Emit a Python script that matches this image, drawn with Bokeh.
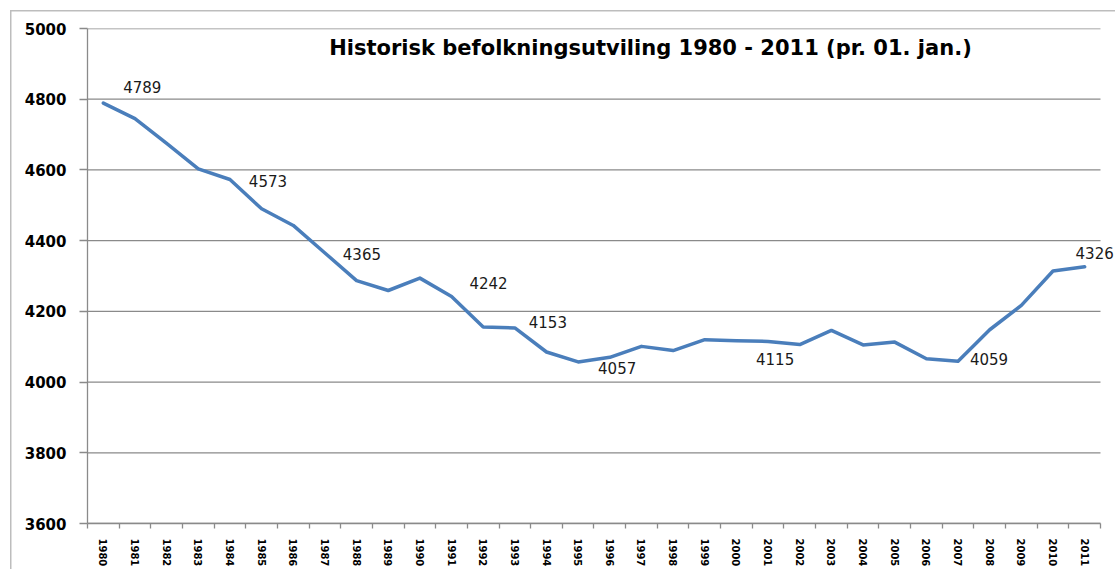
from bokeh.plotting import figure
from bokeh.models import (Range1d, FixedTicker, LabelSet, Label, ColumnDataSource,
                          InlineStyleSheet)
from bokeh.core.properties import value
from bokeh.embed import file_html
from bokeh.resources import INLINE

# ---- data ----
years = list(range(1980, 2012))
population = [4789, 4745, 4675, 4603, 4573, 4490, 4443, 4365, 4287, 4259,
              4294, 4242, 4156, 4153, 4085, 4057, 4070, 4101, 4089, 4120,
              4117, 4115, 4106, 4146, 4105, 4113, 4066, 4059, 4148, 4217,
              4314, 4326]
label_years = [1980, 1984, 1987, 1991, 1993, 1995, 2001, 2007, 2011]
label_values = [population[years.index(y)] for y in label_years]
y_ticks = [3600, 3800, 4000, 4200, 4400, 4600, 4800, 5000]
title_text = "Historisk befolkningsutviling 1980 - 2011 (pr. 01. jan.)"

# label placement (screen px, positive dy = up)
label_dx = [39, 38, 37, 37, 33, 39, 7, 31, 10]
label_dy = [16, -2, -1, 14, 6, -6, -18, 2, 14]

GRID = "#8a8a8a"

chart_border = InlineStyleSheet(css=""":host {
  background-color: #ffffff;
  box-shadow: inset 10px 10px 0 0 #ffffff, inset 11.5px 11.5px 0 0 #bdbdbd;
}""")

# category slots span [year-0.5, year+0.5]; plot area runs on past the last
# slot by a small white margin (about half a slot) up to the picture edge
x_lo = years[0] - 0.5
x_hi = years[-1] + 0.5
x_view_end = x_hi + 0.474

p = figure(width=1115, height=569,
           x_range=Range1d(x_lo, x_view_end), y_range=Range1d(3600, 5000),
           output_backend="svg", toolbar_location=None,
           min_border_left=87, min_border_right=0, min_border_top=28,
           min_border_bottom=46, stylesheets=[chart_border])
p.outline_line_color = None
p.background_fill_color = None
p.border_fill_color = None

# horizontal gridlines limited to the category slots
p.xgrid.visible = False
p.ygrid.visible = False
p.segment(x0=[x_lo] * len(y_ticks), x1=[x_hi] * len(y_ticks),
          y0=y_ticks, y1=y_ticks, line_color=GRID, line_width=1.3)

# y axis
p.yaxis.ticker = FixedTicker(ticks=y_ticks)
p.yaxis.axis_line_color = GRID
p.yaxis.axis_line_width = 1.3
p.yaxis.major_tick_line_color = GRID
p.yaxis.major_tick_line_width = 1.3
p.yaxis.major_tick_out = 8
p.yaxis.major_tick_in = 0
p.yaxis.minor_tick_line_color = None
p.yaxis.major_label_standoff = 13
p.yaxis.major_label_text_font = "DejaVu Sans"
p.yaxis.major_label_text_font_style = "bold"
p.yaxis.major_label_text_font_size = "15px"
p.yaxis.major_label_text_color = "#000000"

# x axis
p.xaxis.bounds = (x_lo, x_hi)
p.xaxis.ticker = FixedTicker(ticks=years,
                             minor_ticks=[y - 0.5 for y in years] + [x_hi])
p.xaxis.axis_line_color = GRID
p.xaxis.axis_line_width = 1.3
p.xaxis.major_tick_out = 0
p.xaxis.major_tick_in = 0
p.xaxis.minor_tick_out = 5
p.xaxis.minor_tick_in = 0
p.xaxis.minor_tick_line_color = GRID
p.xaxis.minor_tick_line_width = 1.3
p.xaxis.major_label_orientation = "vertical"
p.xaxis.major_label_standoff = 10
p.xaxis.major_label_text_font = "DejaVu Sans"
p.xaxis.major_label_text_font_style = "bold"
p.xaxis.major_label_text_font_size = "10px"
p.xaxis.major_label_text_color = "#000000"

p.line(years, population, line_color="#4a7ebb", line_width=3.5,
       line_join="round", line_cap="round")

src = ColumnDataSource(dict(x=label_years, y=label_values,
                            t=[str(v) for v in label_values],
                            dx=label_dx, dy=label_dy))
p.add_layout(LabelSet(x="x", y="y", text="t", source=src,
                      x_offset="dx", y_offset="dy",
                      text_font=value("DejaVu Sans"), text_font_size="15px",
                      text_align="center", text_baseline="middle",
                      text_color="#1a1a1a"))

# title inside the plot area (screen units are relative to the frame)
p.add_layout(Label(x=563, y=476, x_units="screen", y_units="screen",
                   text=title_text, text_font="DejaVu Sans",
                   text_font_style="bold", text_font_size="21px",
                   text_align="center", text_baseline="middle",
                   text_color="#000000"))

open("out.html", "w").write(file_html(p, INLINE))
